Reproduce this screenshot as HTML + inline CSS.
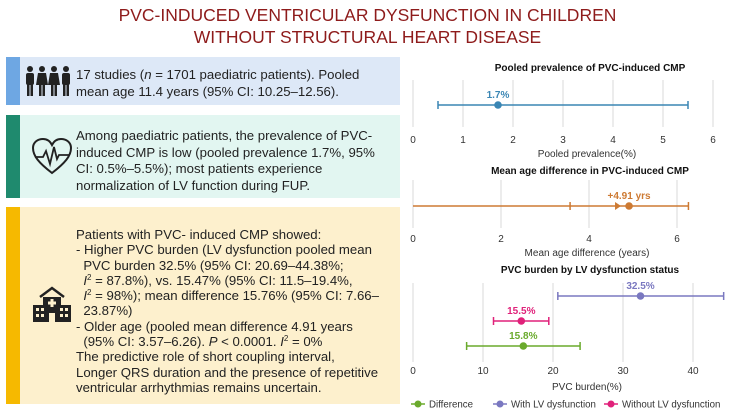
<!DOCTYPE html>
<html><head><meta charset="utf-8"><style>
body{margin:0;width:735px;height:413px;background:#fff;font-family:"Liberation Sans",sans-serif;position:relative;overflow:hidden}
.title{position:absolute;left:0;width:735px;top:4px;text-align:center;color:#8e1b1b;font-size:17.5px;line-height:22px}
.panel{position:absolute;left:6px;width:394px}
.stripe{position:absolute;left:0;top:0;bottom:0;width:14px}
.txt{position:absolute;left:70px;right:4px;font-size:13.2px;line-height:16.5px;color:#222}
.nw{white-space:nowrap}
sup{font-size:8px;line-height:0;position:relative;top:-1px;vertical-align:baseline}
sup.s{top:-5px}
.icon{position:absolute}
</style></head><body>
<div class="title">PVC-INDUCED VENTRICULAR DYSFUNCTION IN CHILDREN<br>WITHOUT STRUCTURAL HEART DISEASE</div>

<div class="panel" style="top:57px;height:48px;background:#dde8f7">
<div class="stripe" style="background:#6ea7e3"></div>
<svg class="icon" style="left:18px;top:8px" width="48" height="32" viewBox="0 0 48 32">
<g fill="#222"><circle cx="6" cy="4" r="3"/><rect x="2" y="8" width="8" height="12" rx="2"/><rect x="3" y="19" width="2.5" height="12"/><rect x="6.5" y="19" width="2.5" height="12"/>
<circle cx="18" cy="4" r="3"/><path d="M14 8h8l2 12h-12z"/><rect x="15" y="19" width="2.5" height="12"/><rect x="18.5" y="19" width="2.5" height="12"/>
<circle cx="30" cy="4" r="3"/><path d="M26 8h8l2 12h-12z"/><rect x="27" y="19" width="2.5" height="12"/><rect x="30.5" y="19" width="2.5" height="12"/>
<circle cx="42" cy="4" r="3"/><rect x="38" y="8" width="8" height="12" rx="2"/><rect x="39" y="19" width="2.5" height="12"/><rect x="42.5" y="19" width="2.5" height="12"/></g></svg>
<div class="txt nw" style="top:10px">17 studies (<i>n</i> = 1701 paediatric patients). Pooled<br>mean age 11.4 years (95% CI: 10.25–12.56).</div>
</div>

<div class="panel" style="top:115px;height:83px;background:#e2f6f1">
<div class="stripe" style="background:#1f8a6e"></div>
<svg class="icon" style="left:25px;top:22px" width="42" height="38" viewBox="0 0 42 38">
<path d="M21 36 C8 26 2 19 2 11 C2 5 7 2 12 2 C16 2 19 4 21 8 C23 4 26 2 30 2 C35 2 40 5 40 11 C40 19 34 26 21 36Z" fill="none" stroke="#222" stroke-width="2"/>
<path d="M4 20 H12 L15 14 L19 27 L23 10 L26 22 L28 18 H38" fill="none" stroke="#222" stroke-width="1.8"/></svg>
<div class="txt nw" style="top:13px">Among paediatric patients, the prevalence of PVC-<br>induced CMP is low (pooled prevalence 1.7%, 95%<br>CI: 0.5%–5.5%); most patients experience<br>normalization of LV function during FUP.</div>
</div>

<div class="panel" style="top:207px;height:197px;background:#fdf0cd">
<div class="stripe" style="background:#f6b900"></div>
<svg class="icon" style="left:26px;top:78px" width="40" height="38" viewBox="0 0 40 38">
<path d="M8 12 L20 3 L32 12" fill="none" stroke="#222" stroke-width="2.5"/>
<rect x="11" y="12" width="18" height="25" fill="#222"/><rect x="1" y="20" width="38" height="17" fill="#222"/>
<g fill="#fdf0cd"><rect x="18.5" y="14" width="3" height="8"/><rect x="16" y="16.5" width="8" height="3"/><rect x="17" y="28" width="6" height="9"/>
<rect x="4" y="23" width="3" height="3"/><rect x="9" y="23" width="3" height="3"/><rect x="4" y="29" width="3" height="3"/><rect x="9" y="29" width="3" height="3"/>
<rect x="28" y="23" width="3" height="3"/><rect x="33" y="23" width="3" height="3"/><rect x="28" y="29" width="3" height="3"/><rect x="33" y="29" width="3" height="3"/></g></svg>
<div class="txt nw" style="top:20px;line-height:15.3px">Patients with PVC- induced CMP showed:<br>
- Higher PVC burden (LV dysfunction pooled mean<br>&nbsp;&nbsp;PVC burden 32.5% (95% CI: 20.69–44.38%;<br>&nbsp;&nbsp;<i>I</i><sup class="s">2</sup> = 87.8%), vs. 15.47% (95% CI: 11.5–19.4%,<br>&nbsp;&nbsp;<i>I</i><sup class="s">2</sup> = 98%); mean difference 15.76% (95% CI: 7.66–<br>&nbsp;&nbsp;23.87%)<br>
- Older age (pooled mean difference 4.91 years<br>&nbsp;&nbsp;(95% CI: 3.57–6.26). <i>P</i> &lt; 0.0001. <i>I</i><sup class="s">2</sup> = 0%<br>
The predictive role of short coupling interval,<br>Longer QRS duration and the presence of repetitive<br>ventricular arrhythmias remains uncertain.</div>
</div>

<svg id="charts" width="735" height="413" style="position:absolute;left:0;top:0" font-family="Liberation Sans, sans-serif"></svg>

<script>
const prevTicks=[0,1,2,3,4,5,6];
const prevValue=[1.7];
const prevLow=[0.5];
const prevHigh=[5.5];
const ageTicks=[0,2,4,6];
const ageValue=[4.91];
const ageLow=[3.57];
const ageHigh=[6.26];
const burdenTicks=[0,10,20,30,40];
const burdenSeries=["With LV dysfunction","Without LV dysfunction","Difference"];
const burdenValue=[32.5,15.47,15.76];
const burdenLow=[20.69,11.5,7.66];
const burdenHigh=[44.38,19.4,23.87];
const burdenLabels=["32.5%","15.5%","15.8%"];
const burdenColors=["#7a78c0","#e0217a","#6aaa2c"];

const svg=document.getElementById('charts');
const NS='http://www.w3.org/2000/svg';
function el(t,a,txt){const e=document.createElementNS(NS,t);for(const k in a)e.setAttribute(k,a[k]);if(txt!=null)e.textContent=txt;svg.appendChild(e);return e;}
function lin(d0,d1,r0,r1){return v=>r0+(v-d0)/(d1-d0)*(r1-r0);}

function axes(name,title,ty,ticks,x,g0,g1,tickY,axTitle,axY){
  let e=el('text',{x:590,y:ty,'text-anchor':'middle','font-size':10,'font-weight':'bold',fill:'#111'},title);
  
  
  ticks.forEach(t=>{
    let g=el('line',{x1:x(t),x2:x(t),y1:g0,y2:g1,stroke:'#d9d9d9','stroke-width':1});
    
    
    let l=el('text',{x:x(t),y:tickY,'text-anchor':'middle','font-size':10,fill:'#333'},String(t));
    
    
  });
  let a=el('text',{x:587,y:axY,'text-anchor':'middle','font-size':10,fill:'#333'},axTitle);
  
  
}
function errbar(name,x,v,lo,hi,y,color,label){
  let l=el('line',{x1:x(lo),x2:x(hi),y1:y,y2:y,stroke:color,'stroke-width':1.5});
  
  
  [x(lo),x(hi)].forEach(px=>{
    let c=el('line',{x1:px,x2:px,y1:y-4,y2:y+4,stroke:color,'stroke-width':1.5});
    
    
  });
  let p=el('circle',{cx:x(v),cy:y,r:3.8,fill:color});
  
  
  let t=el('text',{x:x(v),y:y-7,'text-anchor':'middle','font-size':10,'font-weight':'bold',fill:color},label);
  
  
}

const x1=lin(0,6,413,713);
axes('prevalence-chart','Pooled prevalence of PVC-induced CMP',71,prevTicks,x1,80,127,143,'Pooled prevalence(%)',157);
errbar('prevalence',x1,prevValue[0],prevLow[0],prevHigh[0],105,'#3a86b4',prevValue[0]+'%');

const x2=lin(0,2,413,501);
axes('age-chart','Mean age difference in PVC-induced CMP',174,ageTicks,x2,180,228,242,'Mean age difference (years)',256);
let al=el('line',{x1:413,x2:x2(ageLow[0]),y1:206,y2:206,stroke:'#cd7a33','stroke-width':1.5});


let ar=el('path',{d:`M${x2(ageValue[0])-14} 202 L${x2(ageValue[0])-8} 206 L${x2(ageValue[0])-14} 210Z`,fill:'#cd7a33'});


errbar('age',x2,ageValue[0],ageLow[0],ageHigh[0],206,'#cd7a33','+'+ageValue[0]+' yrs');

const x3=lin(0,10,413,483);
axes('burden-chart','PVC burden by LV dysfunction status',273,burdenTicks,x3,283,362,374,'PVC burden(%)',390);
const rowsY=[296,321,346];
burdenSeries.forEach((s,i)=>{
  errbar('burden-'+['with-lv','without-lv','difference'][i],x3,burdenValue[i],burdenLow[i],burdenHigh[i],rowsY[i],burdenColors[i],burdenLabels[i]);
});
const leg=[["Difference","#6aaa2c",411],["With LV dysfunction","#7a78c0",493],["Without LV dysfunction","#e0217a",604]];
leg.forEach(([t,c,x])=>{
  let l=el('line',{x1:x,x2:x+14,y1:404,y2:404,stroke:c,'stroke-width':1.5});
  
  
  let d=el('circle',{cx:x+7,cy:404,r:3.5,fill:c});
  
  
  let tx=el('text',{x:x+18,y:407.5,'font-size':9.7,fill:'#333'},t);
  
  
});
</script>
</body></html>
